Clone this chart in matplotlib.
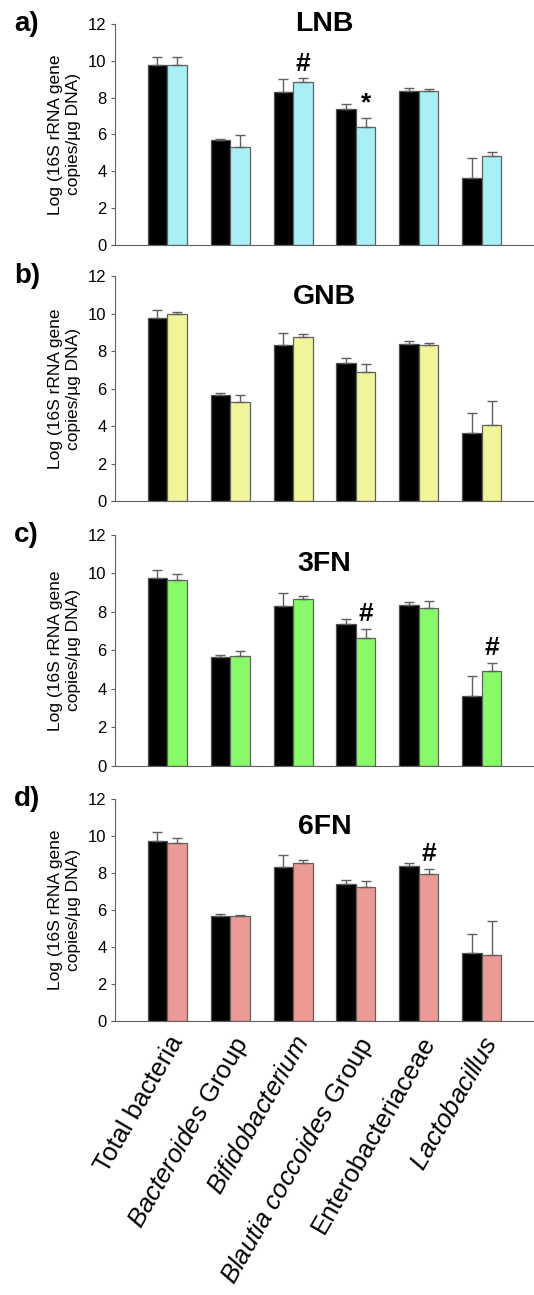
import numpy as np
import matplotlib
matplotlib.use('Agg')
import matplotlib.pyplot as plt

plt.rcParams['font.family'] = ['Liberation Sans', 'DejaVu Sans']
plt.rcParams['mathtext.fontset'] = 'custom'
plt.rcParams['mathtext.it'] = 'Liberation Sans:italic'
plt.rcParams['mathtext.rm'] = 'Liberation Sans'

categories = ['Total bacteria', r'$\it{Bacteroides}$ Group', r'$\it{Bifidobacterium}$',
              r'$\it{Blautia\ coccoides}$ Group', 'Enterobacteriaceae', r'$\it{Lactobacillus}$']

# control (black) group, same in every panel
control = [9.75, 5.68, 8.33, 7.38, 8.38, 3.65]
control_err = [0.45, 0.09, 0.66, 0.26, 0.16, 1.05]

panels = ['a)', 'b)', 'c)', 'd)']
titles = ['LNB', 'GNB', '3FN', '6FN']
colors = ['#a8f0f6', '#f0f59a', '#88fa6a', '#eb9a96']

treat = [
    [9.77, 5.32, 8.87, 6.41, 8.38, 4.85],
    [9.97, 5.28, 8.74, 6.87, 8.31, 4.03],
    [9.64, 5.70, 8.67, 6.67, 8.20, 4.95],
    [9.62, 5.65, 8.52, 7.27, 7.96, 3.55],
]
treat_err = [
    [0.43, 0.63, 0.18, 0.47, 0.11, 0.22],
    [0.14, 0.39, 0.18, 0.46, 0.12, 1.30],
    [0.35, 0.27, 0.17, 0.47, 0.38, 0.42],
    [0.29, 0.09, 0.18, 0.29, 0.25, 1.86],
]
# significance marks: (panel, category, symbol)
marks = [(0, 2, '#'), (0, 3, '*'), (2, 3, '#'), (2, 5, '#'), (3, 4, '#')]

fig = plt.figure(figsize=(5.34, 12.95), dpi=100)
boxes = [(0.8108, 0.1707), (0.6131, 0.1737), (0.4085, 0.1784), (0.2116, 0.1714)]
title_y = [12.0, 10.9, 10.5, 10.5]

x = np.arange(len(categories))
w = 0.31
axes = []
for k in range(4):
    ax = fig.add_axes([0.2154, boxes[k][0], 0.7846, boxes[k][1]])
    axes.append(ax)
    ax.bar(x - w / 2, control, w, color='black', edgecolor='#505050', linewidth=0.9,
           yerr=[[0] * 6, control_err], error_kw=dict(ecolor='#606060', elinewidth=1, capsize=3.5, capthick=1))
    ax.bar(x + w / 2, treat[k], w, color=colors[k], edgecolor='#606060', linewidth=0.9,
           yerr=[[0] * 6, treat_err[k]], error_kw=dict(ecolor='#606060', elinewidth=1, capsize=3.5, capthick=1))
    ax.set_xlim(-0.83, 5.83)
    ax.set_ylim(0, 12)
    ax.set_yticks(range(0, 13, 2))
    ax.tick_params(axis='y', labelsize=12, length=3, color='#606060', pad=3)
    ax.spines['top'].set_visible(False)
    ax.spines['right'].set_visible(False)
    ax.spines['left'].set_color('#606060')
    ax.spines['bottom'].set_color('#606060')
    ax.set_ylabel('Log (16S rRNA gene\ncopies/\u00b5g DNA)', fontsize=12.5, labelpad=5,
                  linespacing=1.25)
    ax.text(2.5, title_y[k], titles[k], ha='center', va='center', fontsize=20.5, fontweight='bold')
    fig.text(0.026, boxes[k][0] + boxes[k][1], panels[k], ha='left', va='center',
             fontsize=20, fontweight='bold')
    if k < 3:
        ax.set_xticks([])
    else:
        ax.set_xticks(x)
        ax.set_xticklabels(categories, rotation=60, ha='right', rotation_mode='anchor', fontsize=18.5)
        ax.tick_params(axis='x', length=0, pad=8)

for k, i, s in marks:
    top = treat[k][i] + treat_err[k][i]
    axes[k].text(x[i] + w / 2, top + 0.15, s, ha='center', va='bottom', fontsize=19, fontweight='bold')

fig.savefig('out.png', dpi=100)
